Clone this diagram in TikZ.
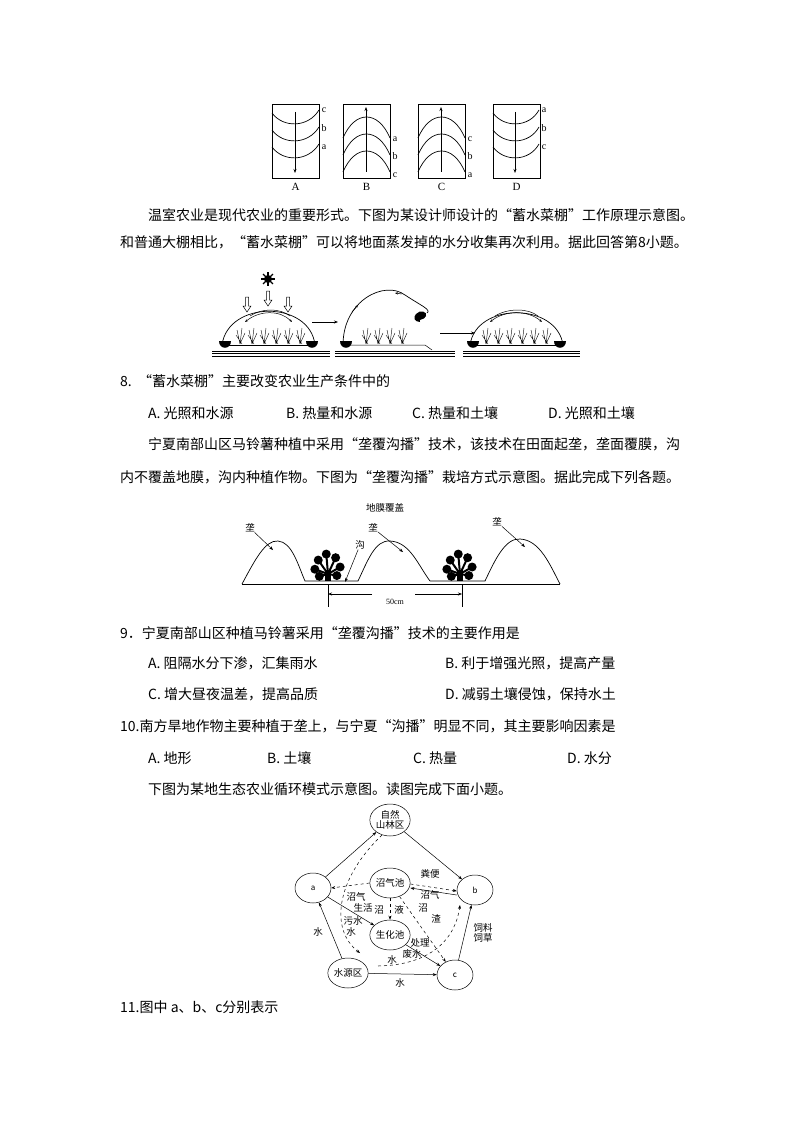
\documentclass[tikz,border=0pt]{standalone}
\usepackage{fontspec}
\setmainfont{Liberation Serif}
\newfontfamily\cjk{Noto Sans CJK SC}
\usetikzlibrary{arrows.meta,shapes.geometric}
\begin{document}
\begin{tikzpicture}[x=1pt,y=-1pt,
  txt/.style={anchor=west,inner sep=0,font=\cjk\fontsize{14}{14}\selectfont},
  lbl/.style={inner sep=0,font=\fontsize{10}{10}\selectfont},
  sm/.style={inner sep=0,font=\cjk\fontsize{9.5}{10}\selectfont},
  ln/.style={line width=0.7pt},
  arr/.style={ln,-{Stealth[length=4pt]}},
  darr/.style={line width=0.5pt,dashed,-{Stealth[length=4pt]}},
  cnode/.style={draw,ellipse,minimum width=36pt,minimum height=30pt,inner sep=0,font=\cjk\fontsize{9.5}{10}\selectfont,align=center,line width=0.5pt}]
\useasboundingbox (0,0) rectangle (794,1123);
% ---- top boxes
\foreach \x/\n/\t in {272/A/v,343/B/h,418/C/h,493/D/v}{
  \draw[ln] (\x,104) rectangle ++(47,74);
  \node[lbl,font=\fontsize{11}{11}\selectfont] at (\x+23.5,187) {\n};
}
\foreach \dy in {0,17,34}{
  \draw[ln] (272,113+\dy) .. controls (283,128+\dy) and (308,128+\dy) .. (319,110+\dy);
  \draw[ln] (493,113+\dy) .. controls (504,128+\dy) and (529,128+\dy) .. (539,110+\dy);
  \draw[ln] (343,138+\dy) .. controls (355,110+\dy) and (378,110+\dy) .. (390,138+\dy);
  \draw[ln] (418,138+\dy) .. controls (430,110+\dy) and (453,110+\dy) .. (465,138+\dy);
}
\coordinate (at1) at (295,112); \coordinate (at2) at (295,173);
\draw[arr] (at1) -- (at2);
\coordinate (dt1) at (515,112); \coordinate (dt2) at (515,173);
\draw[arr] (dt1) -- (dt2);
\coordinate (bt1) at (366,172); \coordinate (bt2) at (366,107);
\draw[arr] (bt1) -- (bt2);
\coordinate (ct1) at (441,172); \coordinate (ct2) at (441,107);
\draw[arr] (ct1) -- (ct2);
\foreach \l/\y in {c/110,b/128,a/147}{\node[lbl] at (324,\y) {\l};}
\foreach \l/\y in {a/110,b/128,c/147}{\node[lbl] at (544,\y) {\l};}
\foreach \l/\y in {a/139,b/156,c/175}{\node[lbl] at (395,\y) {\l};}
\foreach \l/\y in {c/139,b/156,a/175}{\node[lbl] at (470,\y) {\l};}
% ---- text
\node[txt] at (148,215) {温室农业是现代农业的重要形式。下图为某设计师设计的“蓄水菜棚”工作原理示意图。};
\node[txt] at (120,242) {和普通大棚相比，“蓄水菜棚”可以将地面蒸发掉的水分收集再次利用。据此回答第8小题。};
% ---- greenhouse
\foreach \xa/\xb in {212/330,335/455,463/580}{
  \foreach \yy in {351,353.5,356}{\draw[line width=0.5pt] (\xa,\yy) -- (\xb,\yy);}
}
\draw[line width=0.5pt] (225,345) -- (315,345);
\draw[line width=0.5pt] (345,345) -- (425,345) -- (432,350);
\draw[line width=0.5pt] (472,345) -- (563,345);
\draw[ln] (222,345) .. controls (228,300) and (310,300) .. (315,345);
\draw[ln] (470,345) .. controls (476,302) and (557,302) .. (563,345);
\draw[line width=0.5pt,{Stealth[length=3pt]}-{Stealth[length=3pt]}] (245,322) .. controls (260,310) and (280,310) .. (292,322);
\draw[line width=0.5pt] (250,316) .. controls (262,308) and (280,308) .. (290,316);
\draw[line width=0.5pt,{Stealth[length=3pt]}-{Stealth[length=3pt]}] (490,322) .. controls (505,310) and (528,310) .. (542,322);
\draw[line width=0.5pt] (495,316) .. controls (508,308) and (528,308) .. (538,316);
\draw[ln] (343,345) .. controls (343,300) and (385,280) .. (405,295) .. controls (420,305) and (432,310) .. (427,313);
\draw[line width=0.5pt,-{Stealth[length=3pt]}] (352,312) -- (358,305);
\draw[line width=0.5pt,-{Stealth[length=3pt]}] (402,294) -- (395,293);
\fill (416,314) .. controls (420,309) and (428,312) .. (426,316) .. controls (424,321) and (418,318) .. (420,322) .. controls (414,322) and (413,317) .. (416,314);
\foreach \x/\s in {225/1,312/-1,346/1,473/1,560/-1}{
  \fill (\x-6,341) -- (\x+6,341) .. controls (\x+6,350) and (\x-6,350) .. (\x-6,341);
}
\foreach \x in {240,252,264,276,288,300,366,378,390,402,486,498,510,522,534,546}{
  \draw[line width=0.4pt] (\x,344) -- (\x-3,330) (\x,344) -- (\x+2,328) (\x,344) -- (\x+5,333) (\x+2,344) -- (\x-4,335);
}
\fill (268,279) circle (4);
\foreach \a in {0,45,...,315}{\draw[line width=1.2pt] (268,279) -- ++(\a:7);}
\foreach \x/\y in {247/297,268/291,288/297}{
  \draw[line width=0.5pt,fill=white] (\x-1.5,\y) -- (\x+1.5,\y) -- (\x+1.5,\y+9) -- (\x+4,\y+9) -- (\x,\y+15) -- (\x-4,\y+9) -- (\x-1.5,\y+9) -- cycle;
}
\coordinate (g1) at (312,322); \coordinate (g2) at (338,322);
\draw[arr] (g1) -- (g2);
\coordinate (g3) at (440,333); \coordinate (g4) at (475,333);
\draw[arr] (g3) -- (g4);
% ---- Q8
\node[txt] at (120,381) {8.\ \ “蓄水菜棚”主要改变农业生产条件中的};
\node[txt] at (148,413) {A. 光照和水源};
\node[txt] at (286,413) {B. 热量和水源};
\node[txt] at (412,413) {C. 热量和土壤};
\node[txt] at (548,413) {D. 光照和土壤};
\node[txt] at (148,444) {宁夏南部山区马铃薯种植中采用“垄覆沟播”技术，该技术在田面起垄，垄面覆膜，沟};
\node[txt] at (120,477) {内不覆盖地膜，沟内种植作物。下图为“垄覆沟播”栽培方式示意图。据此完成下列各题。};
% ---- ridge figure
\draw[ln] (242,584) -- (560,584);
\draw[ln] (242,584) .. controls (255,560) and (265,540) .. (278,541) .. controls (292,542) and (298,565) .. (305,581) -- (358,581)
 .. controls (368,560) and (375,540) .. (390,541) .. controls (410,542) and (418,565) .. (430,581) -- (485,581)
 .. controls (495,560) and (505,538) .. (520,539) .. controls (540,540) and (550,565) .. (560,584);
\node[sm] at (385,508) {地膜覆盖};
\node[sm] (r1) at (250,528) {垄}; \coordinate (r1e) at (273,550);
\node[sm] (r2) at (373,528) {垄}; \coordinate (r2e) at (403,552);
\node[sm] (r3) at (497,522) {垄}; \coordinate (r3e) at (525,547);
\node[sm] (gou) at (360,545) {沟}; \coordinate (goue) at (345,582);
\foreach \a/\b in {r1/r1e,r2/r2e,r3/r3e,gou/goue}{\draw[arr,line width=0.5pt] (\a) -- (\b);}
\draw[line width=0.5pt] (328,585) -- (328,607) (462,585) -- (462,607);
\coordinate (d1) at (372,594); \coordinate (d2) at (328,594);
\coordinate (d3) at (415,594); \coordinate (d4) at (462,594);
\draw[arr,line width=0.5pt] (d1) -- (d2); \draw[arr,line width=0.5pt] (d3) -- (d4);
\node[lbl,font=\fontsize{8}{8}\selectfont] at (395,602) {50cm};
\foreach \x in {328,460}{
  \fill (\x-3,581) rectangle (\x+3,570);
  \foreach \a/\r in {-160/14,-125/17,-95/20,-65/18,-30/14,-195/9,10/9}{
    \fill (\x,574) ++(\a:\r) circle (4.5);
    \draw[line width=2pt] (\x,574) -- ++(\a:\r);
  }
}
% ---- Q9-10
\node[txt] at (120,633) {9．宁夏南部山区种植马铃薯采用“垄覆沟播”技术的主要作用是};
\node[txt] at (148,663) {A. 阻隔水分下渗，汇集雨水};
\node[txt] at (445,663) {B. 利于增强光照，提高产量};
\node[txt] at (148,694) {C. 增大昼夜温差，提高品质};
\node[txt] at (445,694) {D. 减弱土壤侵蚀，保持水土};
\node[txt] at (120,726) {10.南方旱地作物主要种植于垄上，与宁夏“沟播”明显不同，其主要影响因素是};
\node[txt] at (148,758) {A. 地形};
\node[txt] at (267,758) {B. 土壤};
\node[txt] at (413,758) {C. 热量};
\node[txt] at (567,758) {D. 水分};
\node[txt] at (148,789) {下图为某地生态农业循环模式示意图。读图完成下面小题。};
% ---- cycle diagram
\node[cnode,minimum width=30pt,minimum height=32pt] (zr) at (390,820) {自然\\山林区};
\node[cnode] (a) at (313,888) {\fontsize{8}{8}\selectfont a};
\node[cnode] (b) at (475,890) {\fontsize{8}{8}\selectfont b};
\node[cnode] (zq) at (390,883) {沼气池};
\node[cnode] (sh) at (390,935) {生化池};
\node[cnode] (sy) at (348,973) {水源区};
\node[cnode] (c) at (455,975) {\fontsize{8}{8}\selectfont c};
\draw[arr,line width=0.5pt] (a) -- (zr);
\draw[arr,line width=0.5pt] (zr) -- (b);
\draw[arr,line width=0.5pt] ([yshift=-5pt]b.west) -- ([yshift=-5pt]zq.east);
\draw[darr] (zq.west) -- (a.east);
\draw[darr] ([yshift=-1pt]zq.east) -- ([yshift=-1pt]b.west);
\draw[darr] (zq) -- (sh);
\draw[darr] (zq) -- (c);
\draw[arr,line width=0.5pt] (a) -- (sh);
\draw[arr,line width=0.5pt] (sh) -- (c);
\draw[arr,line width=0.5pt] (sy) -- (a);
\draw[arr,line width=0.5pt] (sy) -- (c);
\draw[arr,line width=0.5pt] (c) -- (b);
\coordinate (zs) at (382,835); \coordinate (ze) at (360,953);
\draw[darr] (zs) .. controls (335,880) and (330,930) .. (ze);
\coordinate (ws) at (378,966); \coordinate (we) at (460,905);
\draw[darr] (ws) .. controls (430,965) and (455,940) .. (we);
\node[sm] at (430,874) {粪便};
\node[sm] at (356,897) {沼气};
\node[sm] at (363,908) {生活};
\node[sm] at (353,921) {污水};
\node[sm] at (351,932) {水};
\node[sm] at (379,910) {沼};
\node[sm] at (399,910) {液};
\node[sm] at (430,895) {沼气};
\node[sm] at (423,908) {沼};
\node[sm] at (436,919) {渣};
\node[sm] at (420,943) {处理};
\node[sm] at (412,954) {废水};
\node[sm] at (392,960) {水};
\node[sm] at (318,932) {水};
\node[sm] at (400,983) {水};
\node[sm,align=center] at (483,933) {饲料\\饲草};
\node[txt] at (120,1007) {11.图中 a、b、c分别表示};
\end{tikzpicture}
\end{document}
